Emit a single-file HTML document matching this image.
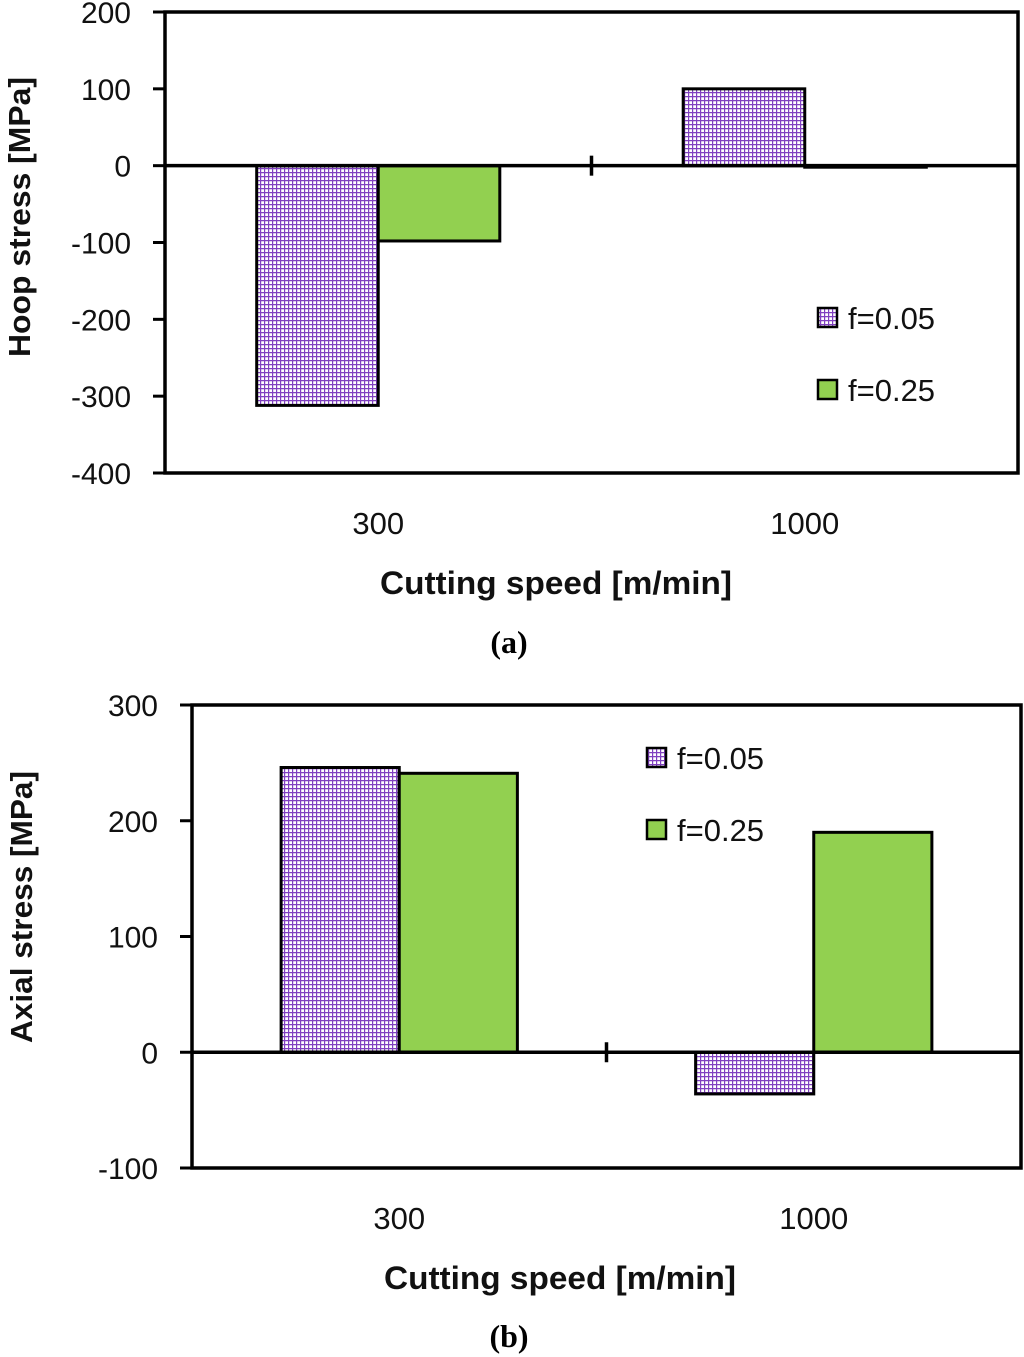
<!DOCTYPE html>
<html><head><meta charset="utf-8"><style>
body{margin:0;background:#fff}
svg{display:block;font-family:"Liberation Sans",sans-serif}
</style></head><body>
<svg id="s" width="1024" height="1357" xmlns="http://www.w3.org/2000/svg">
<defs>
<pattern id="hatch" width="4" height="4" patternUnits="userSpaceOnUse">
<rect width="4" height="4" fill="#fff"/>
<path d="M0 0.5H4M0.5 0V4" stroke="#8040c0" stroke-width="1.4"/>
</pattern>
</defs>
</svg>
<script>
const categories=["300","1000"];
const seriesNames=["f=0.05","f=0.25"];
const hoopF005=[-312,100];
const hoopF025=[-98,-2];
const hoopTicks=[200,100,0,-100,-200,-300,-400];
const axialF005=[246,-36];
const axialF025=[241,190];
const axialTicks=[300,200,100,0,-100];
const NS="http://www.w3.org/2000/svg";
const svg=document.getElementById('s');
function el(t,a,p){const e=document.createElementNS(NS,t);for(const k in a)e.setAttribute(k,a[k]);(p||svg).appendChild(e);return e;}
function chart(o){
  const g=el('g',{});
  
  
  const ymin=Math.min(...o.ticks),ymax=Math.max(...o.ticks);
  const y=v=>o.top+(ymax-v)/(ymax-ymin)*(o.bottom-o.top);
  const cw=(o.right-o.left)/categories.length;
  const bw=cw*0.285;
  const xc=i=>o.left+cw*(i+0.5);
  [o.s1,o.s2].forEach((arr,si)=>{
    arr.forEach((v,i)=>{
      const x=xc(i)-bw+si*bw;
      const r=el('rect',{x:x,y:Math.min(y(v),y(0)),width:bw,height:Math.max(Math.abs(y(v)-y(0)),1),fill:si?'#92d050':'url(#hatch)',stroke:'#000','stroke-width':3},g);
      
      
    });
  });
  el('rect',{x:o.left,y:o.top,width:o.right-o.left,height:o.bottom-o.top,fill:'none',stroke:'#000','stroke-width':3.5},g);
  el('line',{x1:o.left,x2:o.right,y1:y(0),y2:y(0),stroke:'#000','stroke-width':3.5},g);
  el('line',{x1:(o.left+o.right)/2,x2:(o.left+o.right)/2,y1:y(0)-10,y2:y(0)+10,stroke:'#000','stroke-width':3.5},g);
  o.ticks.forEach(t=>{
    el('line',{x1:o.left-12,x2:o.left,y1:y(t),y2:y(t),stroke:'#000','stroke-width':3},g);
    const tx=el('text',{x:o.left-34,y:y(t)+11,'text-anchor':'end','font-size':30,fill:'#111'},g);
    tx.textContent=t;
    
    
  });
  categories.forEach((c,i)=>{
    const tx=el('text',{x:o.left+cw*(i+0.5),y:o.bottom+61,'text-anchor':'middle','font-size':31,fill:'#111'},g);
    tx.textContent=c;
    
    
  });
  const xt=el('text',{x:o.xtx,y:o.bottom+121,'text-anchor':'middle','font-size':32,'font-weight':'bold',fill:'#111',textLength:352,lengthAdjust:'spacingAndGlyphs'},g);
  xt.textContent='Cutting speed [m/min]';
  
  
  const yt=el('text',{x:0,y:0,'text-anchor':'middle','font-size':31,'font-weight':'bold',fill:'#111',textLength:o.ylen,lengthAdjust:'spacingAndGlyphs',transform:`translate(${o.ytx},${o.ytc}) rotate(-90)`},g);
  yt.textContent=o.ytitle;
  
  
  seriesNames.forEach((n,si)=>{
    const ly=o.legY+si*72;
    const lg=el('g',{},g);
    
    
    el('rect',{x:o.legX,y:ly-10,width:19,height:19,fill:si?'#92d050':'url(#hatch)',stroke:'#000','stroke-width':2.5},lg);
    const t=el('text',{x:o.legX+30,y:ly+11,'font-size':31,fill:'#111'},lg);
    t.textContent=n;
  });
  const cap=el('text',{x:o.capX,y:o.capY,'text-anchor':'middle','font-size':32,'font-weight':'bold','font-family':'Liberation Serif, serif',fill:'#000'},g);
  cap.textContent=o.cap;
  
  
}
chart({name:'hoop-stress-chart',left:165,right:1018,top:12,bottom:473,ticks:hoopTicks,s1:hoopF005,s2:hoopF025,ytitle:'Hoop stress [MPa]',ytx:30,ytc:217,ylen:280,xtx:556,legX:818,legY:318,cap:'(a)',capX:509,capY:653});
chart({name:'axial-stress-chart',left:192,right:1021,top:705,bottom:1168,ticks:axialTicks,s1:axialF005,s2:axialF025,ytitle:'Axial stress [MPa]',ytx:32,ytc:907,ylen:272,xtx:560,legX:647,legY:758,cap:'(b)',capX:509,capY:1347});
</script>
</body></html>
